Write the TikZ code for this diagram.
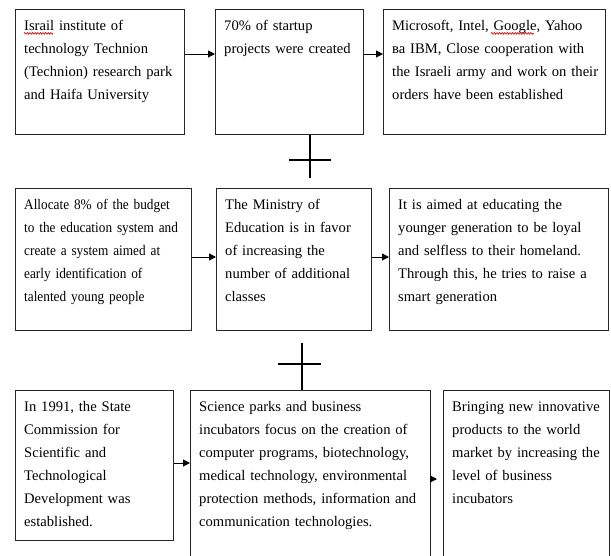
\documentclass[tikz,border=0pt]{standalone}
\usepackage{fontspec}
\setmainfont{Liberation Serif}
\newfontfamily\narrowfont[FakeStretch=0.91]{Liberation Serif}
\usetikzlibrary{arrows.meta,calc,decorations.pathmorphing}
\begin{document}
\begin{tikzpicture}[x=1pt,y=-1pt,
  box/.style={draw=black!85, line width=1pt, rectangle, anchor=north west, inner sep=0pt},
  txt/.style={anchor=north west, inner sep=0pt, text width=300pt, align=left, font=\fontsize{14.6}{23}\selectfont},
  narrowtxt/.style={txt, font=\narrowfont\fontsize{14.6}{23}\selectfont},
  arr/.style={draw=black, line width=1pt, -{Triangle[length=7pt,width=7pt]}},
  stem/.style={draw=black, line width=1.4pt},
  bar/.style={draw=black, line width=2.4pt},
  squiggle/.style={draw=red!85!black, line width=0.6pt, decorate, decoration={snake, amplitude=0.9pt, segment length=2.6pt}}]
\useasboundingbox (0,0) rectangle (611,555);
\clip (0,0) rectangle (611,555);

% row 1
\node[box, minimum width=169pt, minimum height=125pt] (a1) at (15,9) {};
\node[box, minimum width=148pt, minimum height=125pt] (a2) at (215,9) {};
\node[box, minimum width=222pt, minimum height=125pt] (a3) at (383,9) {};
% row 2
\node[box, minimum width=176pt, minimum height=142pt] (b1) at (15,188) {};
\node[box, minimum width=155pt, minimum height=142pt] (b2) at (216,188) {};
\node[box, minimum width=219pt, minimum height=142pt] (b3) at (389,188) {};
% row 3
\node[box, minimum width=158pt, minimum height=150pt] (c1) at (15,390) {};
\node[box, minimum width=240pt, minimum height=175pt] (c2) at (190,390) {};
\node[box, minimum width=166pt, minimum height=175pt] (c3) at (443,390) {};

% texts
\node[txt] (ta1) at ($(a1.north west)+(9,4.9)$) {\strut Israil institute of\\technology Technion\\(Technion) research park\\and Haifa University};
\node[txt] (ta2) at ($(a2.north west)+(9,4.9)$) {\strut 70\% of startup\\projects were created};
\node[txt] (ta3) at ($(a3.north west)+(9,4.9)$) {\strut Microsoft, Intel, Google, Yahoo\\ва IBM, Close cooperation with\\the Israeli army and work on their\\orders have been established};
\node[narrowtxt] (tb1) at ($(b1.north west)+(9,4.9)$) {\strut Allocate 8\% of the budget\\to the education system and\\create a system aimed at\\early identification of\\talented young people};
\node[txt] (tb2) at ($(b2.north west)+(9,4.9)$) {\strut The Ministry of\\Education is in favor\\of increasing the\\number of additional\\classes};
\node[txt] (tb3) at ($(b3.north west)+(9,4.9)$) {\strut It is aimed at educating the\\younger generation to be loyal\\and selfless to their homeland.\\Through this, he tries to raise a\\smart generation};
\node[txt] (tc1) at ($(c1.north west)+(9,4.9)$) {\strut In 1991, the State\\Commission for\\Scientific and\\Technological\\Development was\\established.};
\node[txt] (tc2) at ($(c2.north west)+(9,4.9)$) {\strut Science parks and business\\incubators focus on the creation of\\computer programs, biotechnology,\\medical technology, environmental\\protection methods, information and\\communication technologies.};
\node[txt] (tc3) at ($(c3.north west)+(9,4.9)$) {\strut Bringing new innovative\\products to the world\\market by increasing the\\level of business\\incubators};

% spell-check marks
\draw[squiggle] ($(ta1.north west)+(0,19.5)$) -- ++(29,0);
\draw[squiggle] ($(ta3.north west)+(99,19.5)$) -- ++(43,0);

% arrows
\coordinate (ya) at (0,54);
\coordinate (yb) at (0,257);
\coordinate (yc) at (0,463);
\coordinate (ec) at (437,479);
\draw[arr] (a1.east |- ya) -- (a2.west |- ya);
\draw[arr] (a2.east |- ya) -- (a3.west |- ya);
\draw[arr] (b1.east |- yb) -- (b2.west |- yb);
\draw[arr] (b2.east |- yb) -- (b3.west |- yb);
\draw[arr] (c1.east |- yc) -- (c2.west |- yc);
\draw[arr] (c2.east |- ec) -- (ec);

% crosses
\coordinate (s1) at (310,178);
\draw[stem] (a2.south -| s1) -- (s1);
\coordinate (h1a) at (289,160);
\coordinate (h1b) at (331,160);
\draw[bar] (h1a) -- (h1b);
\coordinate (s2) at (302,343);
\draw[stem] (s2) -- (s2 |- c2.north);
\coordinate (h2a) at (278,364);
\coordinate (h2b) at (321,364);
\draw[bar] (h2a) -- (h2b);
\end{tikzpicture}
\end{document}
